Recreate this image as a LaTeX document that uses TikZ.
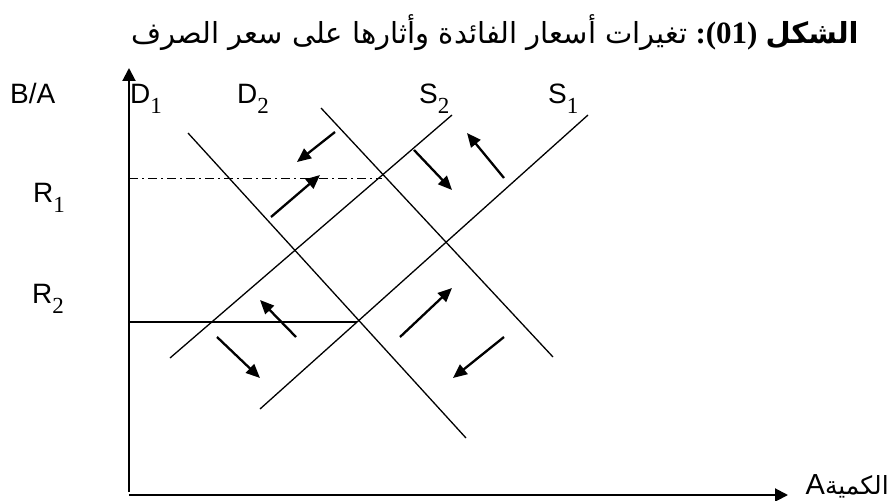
\documentclass[tikz,border=0pt]{standalone}
\usepackage{fontspec}
\setmainfont{Liberation Sans}
\newfontfamily\arabicfont[Script=Arabic]{DejaVu Sans}
\newfontfamily\seriffont{Liberation Serif}
\TeXXeTstate=1
\usetikzlibrary{arrows.meta}
\newcommand\lsub[1]{\raisebox{-10pt}{\seriffont\fontsize{23}{23}\selectfont #1}}
\begin{document}
\begin{tikzpicture}[x=1pt,y=-1pt,
  curve/.style={line width=1.3pt},
  move/.style={line width=2.3pt,-{Triangle[length=14pt,width=12pt]}},
  axisline/.style={line width=2pt,-{Triangle[length=13pt,width=13pt]}},
  lbl/.style={font=\fontsize{28}{30}\selectfont,inner sep=0pt,anchor=base west},
  ttl/.style={inner sep=0pt}]
\useasboundingbox (0,0) rectangle (890,500);
% title
\node[ttl] (title) at (495,33) {\fontsize{29}{32}\selectfont
  {\arabicfont\beginR تغيرات أسعار الفائدة وأثارها على سعر الصرف\endR}\ %
  {\seriffont\bfseries\fontsize{31}{32}\selectfont :(01)}\ %
  {\arabicfont\bfseries\beginR الشكل\endR}};
% axes
\coordinate (o) at (129,492);
\coordinate (ytop) at (129,68);
\coordinate (xo) at (129,495);
\coordinate (xend) at (788,495);
\draw[axisline] (o) -- (ytop);
\draw[axisline] (xo) -- (xend);
\node[inner sep=0pt,anchor=base east] (qty) at (889,494)
  {\fontsize{29}{30}\selectfont A{\arabicfont\fontsize{25}{28}\selectfont\beginR الكمية\endR}};
% axis labels
\node[lbl] (ba) at (10,103) {B/A};
\node[lbl] (r1) at (33,202) {R\lsub{1}};
\node[lbl] (r2) at (32,303) {R\lsub{2}};
\node[lbl] (d1) at (130,103) {D\lsub{1}};
\node[lbl] (d2) at (237,103) {D\lsub{2}};
\node[lbl] (s2) at (419,103) {S\lsub{2}};
\node[lbl] (s1) at (548,103) {S\lsub{1}};
% curves
\coordinate (d1a) at (188,133); \coordinate (d1b) at (466,438);
\coordinate (d2a) at (321,108); \coordinate (d2b) at (553,357);
\coordinate (s2a) at (170,358); \coordinate (s2b) at (452,115);
\coordinate (s1a) at (260,409); \coordinate (s1b) at (588,115);
\draw[curve] (d1a) -- (d1b);
\draw[curve] (d2a) -- (d2b);
\draw[curve] (s2a) -- (s2b);
\draw[curve] (s1a) -- (s1b);
% rate lines
\coordinate (r1a) at (129,178.5); \coordinate (r1b) at (382,178.5);
\coordinate (r2a) at (129,322); \coordinate (r2b) at (357,322);
\draw[line width=1.1pt,dash pattern=on 9pt off 4pt on 2pt off 4pt] (r1a) -- (r1b);
\draw[line width=1.3pt] (r2a) -- (r2b);
% movement arrows
\coordinate (m1a) at (335,132); \coordinate (m1b) at (297,162);
\coordinate (m2a) at (271,217); \coordinate (m2b) at (320,175);
\coordinate (m3a) at (414,150); \coordinate (m3b) at (452,190);
\coordinate (m4a) at (504,178); \coordinate (m4b) at (467,133);
\coordinate (m5a) at (296,337); \coordinate (m5b) at (260,300);
\coordinate (m6a) at (217,337); \coordinate (m6b) at (260,378);
\coordinate (m7a) at (400,337); \coordinate (m7b) at (452,288);
\coordinate (m8a) at (504,337); \coordinate (m8b) at (453,378);
\foreach \i in {1,...,8} {\draw[move] (m\i a) -- (m\i b);}
\end{tikzpicture}
\end{document}
